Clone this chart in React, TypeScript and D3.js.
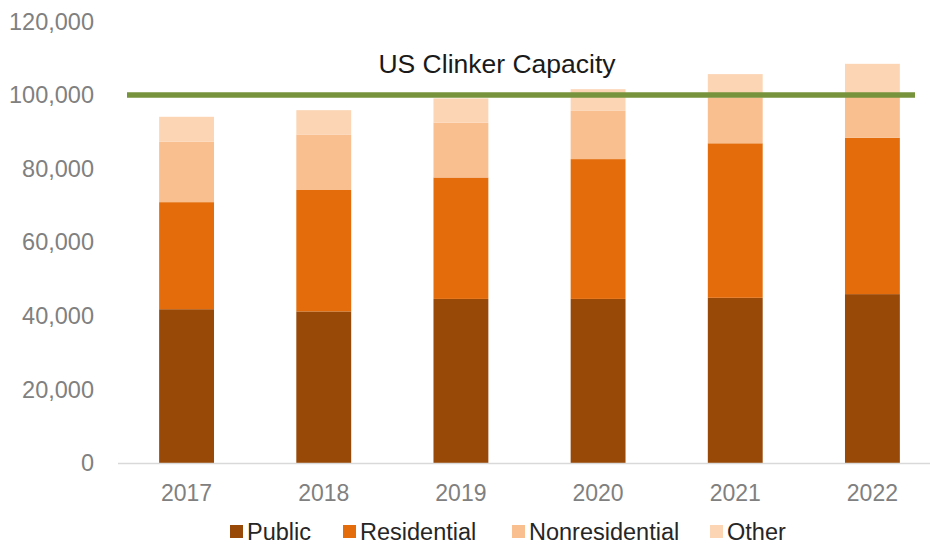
import React, { useEffect, useRef } from "react";
import * as d3 from "d3";

const years = ["2017", "2018", "2019", "2020", "2021", "2022"];
const publicVals = [41800, 41200, 44600, 44600, 44900, 45900];
const residentialVals = [29100, 33000, 33000, 38000, 42000, 42500];
const nonresidentialVals = [16400, 15100, 14900, 13100, 12400, 11400];
const otherVals = [6800, 6600, 6600, 5900, 6400, 8700];
const seriesNames = ["Public", "Residential", "Nonresidential", "Other"];
const seriesColors = ["#984807", "#E46C0A", "#F9BF8F", "#FCD5B5"];
const yTicks = [0, 20000, 40000, 60000, 80000, 100000, 120000];
const capacityValue = 100000;
const capacityLabel = "US Clinker Capacity";

const W = 930;
const H = 549;
const FONT = "'Liberation Sans', Arial, sans-serif";

export default function App() {
  const ref = useRef<SVGSVGElement | null>(null);

  useEffect(() => {
    const svg = d3.select(ref.current);
    svg.selectAll("*").remove();

    const x = d3.scaleBand<string>().domain(years).range([118, 941]).paddingInner(0.6).paddingOuter(0.3);
    const y = d3.scaleLinear().domain([0, 120000]).range([463, 21.5]);

    const table = years.map((yr, i) => ({
      year: yr,
      Public: publicVals[i],
      Residential: residentialVals[i],
      Nonresidential: nonresidentialVals[i],
      Other: otherVals[i],
    }));
    const stacked = d3.stack<any>().keys(seriesNames)(table);

    // y tick labels
    svg.append("g")
      .selectAll("text")
      .data(yTicks)
      .join("text")
      .attr("x", 94)
      .attr("y", (d) => y(d))
      .attr("dy", "0.35em")
      .attr("text-anchor", "end")
      .attr("font-family", FONT)
      .attr("font-size", 23.5)
      .attr("fill", "#808080")
      .text((d) => d3.format(",")(d));

    // bars
    const g = svg.append("g");
    stacked.forEach((layer, li) => {
      g.append("g")
        .attr("fill", seriesColors[li])
        .selectAll("rect")
        .data(layer)
        .join("rect")
        .attr("x", (d: any) => x(d.data.year)!)
        .attr("width", x.bandwidth())
        .attr("y", (d: any) => y(d[1]))
        .attr("height", (d: any) => y(d[0]) - y(d[1]));
    });

    // axis line
    svg.append("line")
      .attr("x1", 118)
      .attr("x2", 930)
      .attr("y1", 463.5)
      .attr("y2", 463.5)
      .attr("stroke", "#d9d9d9")
      .attr("stroke-width", 1.5);

    // x labels
    svg.append("g")
      .selectAll("text")
      .data(years)
      .join("text")
      .attr("x", (d) => x(d)! + x.bandwidth() / 2)
      .attr("y", 501)
      .attr("text-anchor", "middle")
      .attr("font-family", FONT)
      .attr("font-size", 23)
      .attr("fill", "#808080")
      .text((d) => d);

    // capacity line
    svg.append("line")
      .attr("x1", 127)
      .attr("x2", 915)
      .attr("y1", y(capacityValue))
      .attr("y2", y(capacityValue))
      .attr("stroke", "#77933C")
      .attr("stroke-width", 5.5);

    svg.append("text")
      .attr("x", 497)
      .attr("y", 73)
      .attr("text-anchor", "middle")
      .attr("font-family", FONT)
      .attr("font-size", 26.5)
      .attr("fill", "#1a1a1a")
      .text(capacityLabel);

    // legend
    const legendX = [230, 343, 512, 710];
    const lg = svg.append("g");
    seriesNames.forEach((name, i) => {
      lg.append("rect")
        .attr("x", legendX[i])
        .attr("y", 525)
        .attr("width", 13)
        .attr("height", 13)
        .attr("fill", seriesColors[i]);
      lg.append("text")
        .attr("x", legendX[i] + 17)
        .attr("y", 540)
        .attr("font-family", FONT)
        .attr("font-size", 23.5)
        .attr("fill", "#262626")
        .text(name);
    });
  }, []);

  return (
    <svg
      ref={ref}
      width={W}
      height={H}
      style={{ position: "absolute", left: 0, top: 0, background: "#fff" }}
    />
  );
}
